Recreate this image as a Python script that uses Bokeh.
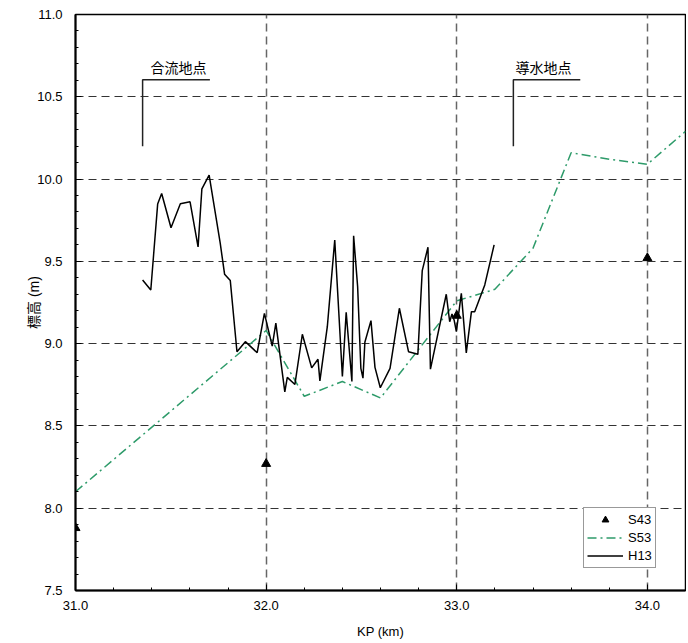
from bokeh.plotting import figure
from bokeh.models import (Range1d, SingleIntervalTicker, NumeralTickFormatter,
                          Legend, LegendItem)
from bokeh.core.properties import value
from bokeh.embed import file_html
from bokeh.resources import INLINE

# ---- data ----
kp_s43 = [31.0, 32.0, 33.0, 34.0]
el_s43 = [7.88, 8.27, 9.17, 9.52]

kp_s53 = [31.0, 32.0, 32.2, 32.4, 32.6, 33.0, 33.2, 33.4, 33.6, 33.8, 34.0, 34.2]
el_s53 = [8.10, 9.08, 8.68, 8.77, 8.67, 9.26, 9.33, 9.58, 10.16, 10.12, 10.09, 10.29]

kp_h13 = [31.352, 31.395, 31.431, 31.452, 31.501, 31.550, 31.601, 31.643, 31.663, 31.701,
          31.759, 31.782, 31.812, 31.847, 31.891, 31.953, 31.991, 32.032, 32.051, 32.098,
          32.111, 32.151, 32.190, 32.239, 32.272, 32.282, 32.321, 32.360, 32.400, 32.420,
          32.450, 32.459, 32.480, 32.497, 32.508, 32.518, 32.550, 32.571, 32.599, 32.650,
          32.699, 32.747, 32.796, 32.819, 32.849, 32.862, 32.945, 32.963, 32.975, 32.986,
          32.998, 33.024, 33.050, 33.077, 33.094, 33.147, 33.196]
el_h13 = [9.387, 9.326, 9.848, 9.912, 9.704, 9.850, 9.862, 9.588, 9.941, 10.024,
          9.612, 9.422, 9.383, 8.951, 9.012, 8.945, 9.184, 8.985, 9.125, 8.707,
          8.795, 8.752, 9.057, 8.853, 8.905, 8.774, 9.103, 9.630, 8.800, 9.190,
          8.770, 9.655, 9.347, 8.850, 8.790, 9.008, 9.140, 8.856, 8.732, 8.850,
          9.215, 8.951, 8.935, 9.444, 9.586, 8.845, 9.300, 9.133, 9.180, 9.144,
          9.073, 9.306, 8.944, 9.194, 9.194, 9.357, 9.600]

note_labels = ["合流地点", "導水地点"]
note_kp_start = [31.352, 33.297]
note_kp_end = [31.705, 33.648]
note_kp_text = [31.54, 33.455]
note_el_top = [10.604, 10.604]
note_el_bottom = [10.20, 10.20]

FONT = "'Liberation Sans', 'Noto Sans CJK JP'"

p = figure(width=686, height=641, output_backend="svg", toolbar_location=None,
           x_range=Range1d(31.0, 34.2), y_range=Range1d(7.5, 11.0),
           min_border_left=75, min_border_right=1, min_border_top=14, min_border_bottom=45,
           background_fill_color="white", border_fill_color="white")

p.outline_line_color = "black"
p.outline_line_width = 1.5

p.xaxis.ticker = SingleIntervalTicker(interval=1, num_minor_ticks=5)
p.yaxis.ticker = SingleIntervalTicker(interval=0.5, num_minor_ticks=5)
for ax in (p.xaxis[0], p.yaxis[0]):
    ax.formatter = NumeralTickFormatter(format="0.0")
    ax.axis_line_color = "black"
    ax.axis_line_width = 2
    ax.major_tick_in = 6
    ax.major_tick_out = 0
    ax.minor_tick_in = 3
    ax.minor_tick_out = 0
    ax.major_tick_line_color = "black"
    ax.minor_tick_line_color = "black"
    ax.major_label_text_font = FONT
    ax.major_label_text_font_size = "13px"
    ax.major_label_text_color = "black"
    ax.axis_label_text_font = FONT
    ax.axis_label_text_font_size = "13px"
    ax.axis_label_text_font_style = "normal"
    ax.axis_label_text_color = "black"

p.xaxis.axis_label = "KP (km)"
p.yaxis.axis_label = "標高 (m)"
p.yaxis.axis_label_text_font_size = "14px"
p.xaxis.major_label_standoff = 10
p.yaxis.major_label_standoff = 13
p.xaxis.axis_label_standoff = 11
p.yaxis.axis_label_standoff = -8

p.xgrid.grid_line_color = "#666666"
p.xgrid.grid_line_width = 1.5
p.xgrid.grid_line_dash = "8 5"
p.ygrid.grid_line_color = "#333333"
p.ygrid.grid_line_width = 1
p.ygrid.grid_line_dash = "8 5"

r_s53 = p.line(kp_s53, el_s53, line_color="#2e9b6a", line_width=1.5, line_dash="9 4 2 4")
r_h13 = p.line(kp_h13, el_h13, line_color="black", line_width=1.5)
r_s43 = p.scatter(kp_s43, el_s43, marker="triangle", size=9, fill_color="black", line_color="black")

for i in range(len(note_labels)):
    p.line([note_kp_start[i], note_kp_start[i], note_kp_end[i]],
           [note_el_bottom[i], note_el_top[i], note_el_top[i]],
           line_color="#222222", line_width=1.5)
p.text(x=note_kp_text, y=note_el_top, text=note_labels,
       text_font=value("Noto Sans CJK JP"), text_font_size="14px",
       text_align="center", text_baseline="bottom", y_offset=-3, text_color="black")

legend = Legend(items=[LegendItem(label="S43", renderers=[r_s43]),
                       LegendItem(label="S53", renderers=[r_s53]),
                       LegendItem(label="H13", renderers=[r_h13])],
                location=(508, 22))
legend.label_text_font = FONT
legend.label_text_font_size = "13px"
legend.label_text_color = "black"
legend.glyph_width = 36
legend.glyph_height = 17
legend.label_height = 17
legend.label_standoff = 5
legend.spacing = 1
legend.padding = 3
legend.margin = 0
legend.border_line_color = "#333333"
legend.border_line_width = 1
legend.background_fill_color = "white"
legend.background_fill_alpha = 1
p.add_layout(legend, "center")

open("out.html", "w").write(file_html(p, INLINE))
